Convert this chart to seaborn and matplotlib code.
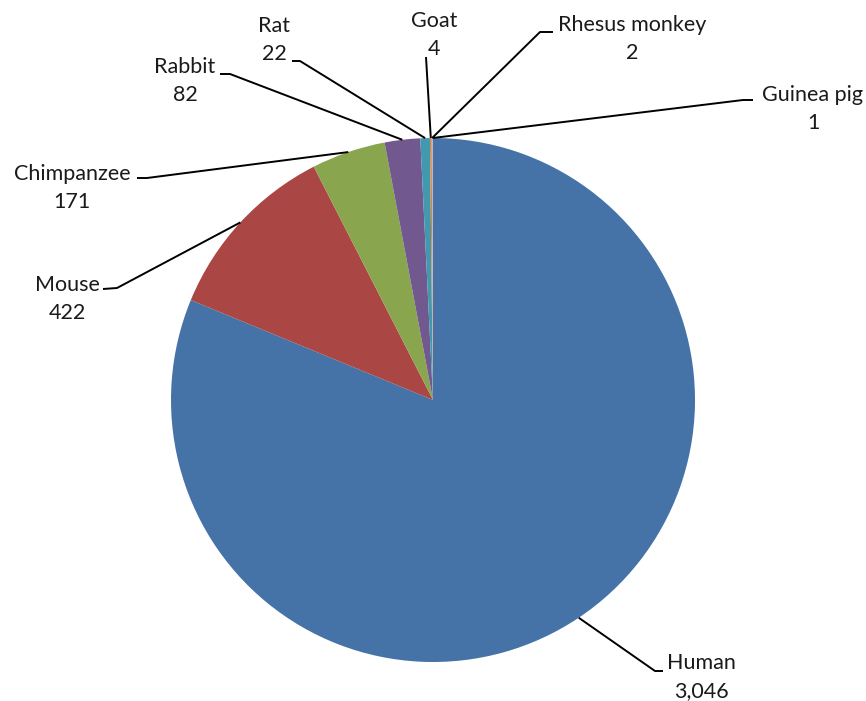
import matplotlib
matplotlib.use("Agg")
import matplotlib.pyplot as plt
import seaborn as sns
import numpy as np

# Number of records per species
species = ["Human", "Mouse", "Chimpanzee", "Rabbit", "Rat", "Goat",
           "Rhesus monkey", "Guinea pig"]
counts = [3046, 422, 171, 82, 22, 4, 2, 1]
slice_colors = ["#4572A7", "#AA4643", "#89A54E", "#71588F", "#4198AF",
                "#DB843D", "#93A9CF", "#D19392"]

sns.set_theme(style="white")
plt.rcParams["font.family"] = ["Lato", "DejaVu Sans"]

W, H = 866, 701
fig = plt.figure(figsize=(W / 100, H / 100), dpi=100)
ax = fig.add_axes([0, 0, 1, 1])


def px(x, y):
    """Convert top-left pixel coordinates into axes data coordinates."""
    return x, H - y


center = px(433, 400)
radius = 262
palette = sns.color_palette(slice_colors)
wedges, _ = ax.pie(counts, colors=palette, startangle=90, counterclock=False,
                   center=center, radius=radius,
                   wedgeprops=dict(linewidth=0))

# Label block centres and leader-line elbows / ends (pixel space)
label_pos = [(701, 677), (67, 299), (72, 188), (185, 81), (274, 40),
             (434, 35), (632, 39), (813, 109)]
elbows = [(655, 671), (117, 288), (147, 178), (230, 74), (300, 61),
          (426, 57), (540, 32), (743, 100)]
ends = [(663, 671), (103, 289), (137, 178), (220, 74), (292, 61),
        (426, 57), (553, 32), (753, 100)]

for w, name, n, lp, el, en in zip(wedges, species, counts, label_pos, elbows, ends):
    mid = np.deg2rad((w.theta1 + w.theta2) / 2)
    sx = center[0] + radius * np.cos(mid)
    sy = center[1] + radius * np.sin(mid)
    ex, ey = px(*el)
    fx, fy = px(*en)
    ax.plot([sx, ex, fx], [sy, ey, fy], color="black", lw=1.4,
            solid_capstyle="butt", zorder=3)
    ax.text(*px(*lp), f"{name}\n{n:,}", ha="center", va="center",
            multialignment="center", fontsize=15.5, color="#1a1a1a",
            linespacing=1.45)

ax.set_xlim(0, W)
ax.set_ylim(0, H)
ax.set_aspect("equal")
ax.axis("off")
fig.savefig("out.png", dpi=100, facecolor="white")
